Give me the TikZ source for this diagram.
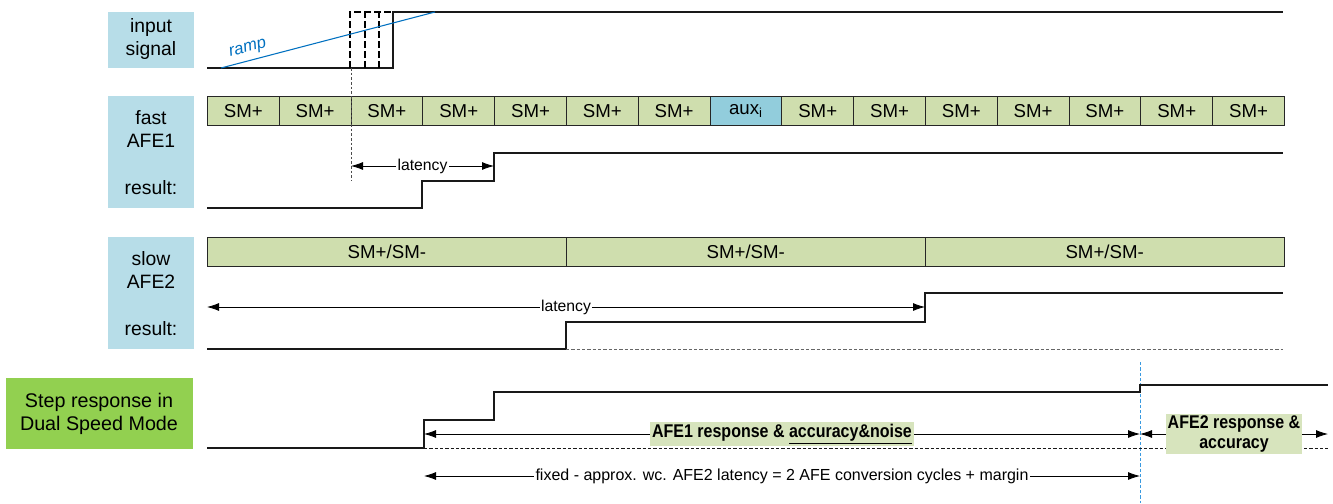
\documentclass[tikz,border=0pt]{standalone}
\usepackage{fontspec}
\setmainfont{Liberation Sans}
\newfontfamily\narrowsans[FakeStretch=0.87]{Liberation Sans}
\usetikzlibrary{arrows.meta}
\definecolor{lblue}{HTML}{B7DDE8}
\definecolor{cellg}{HTML}{CFDEAE}
\definecolor{auxc}{HTML}{92CDDC}
\definecolor{stepg}{HTML}{92D050}
\definecolor{tagg}{HTML}{D7E4BD}
\definecolor{rampc}{HTML}{0070C0}
\definecolor{vline}{HTML}{3A9AE0}
\tikzset{
  lblbox/.style={fill=lblue, anchor=north west, inner sep=0pt},
  lbltext/.style={font=\fontsize{14.5}{17.5}\selectfont, align=center, inner sep=0pt},
  cell/.style={draw=black!85, line width=0.6pt, fill=cellg, anchor=north west, inner sep=0pt, minimum height=21.75pt, font=\fontsize{14}{16}\selectfont},
  sig/.style={line width=0.9pt, black!90},
  dim/.style={line width=0.6pt, {Latex[length=9pt,width=6pt]}-{Latex[length=9pt,width=6pt]}},
  dimlbl/.style={fill=white, inner sep=1pt, font=\fontsize{11.8}{13}\selectfont},
  tag/.style={fill=tagg, inner sep=1.5pt, font=\narrowsans\bfseries\fontsize{13.8}{14.5}\selectfont, align=center}
}
\begin{document}
\begin{tikzpicture}[x=0.75pt,y=-0.75pt]
\useasboundingbox (0,0) rectangle (1333,503);

% label boxes
\node[lblbox, minimum width=64.5pt, minimum height=42pt] (Lin) at (108,12) {};
\node[lbltext] (Lint) at (151,39) {input\\signal};
\node[lblbox, minimum width=64.5pt, minimum height=84pt] (Lf) at (108,96) {};
\node[lbltext] (Lft) at (151,129) {fast\\AFE1};
\node[lbltext] (Lfr) at (151,188) {result:};
\node[lblbox, minimum width=64.5pt, minimum height=84pt] (Ls) at (108,237) {};
\node[lbltext] (Lst) at (151,270) {slow\\AFE2};
\node[lbltext] (Lsr) at (151,329) {result:};
\node[fill=stepg, anchor=north west, inner sep=0pt, minimum width=140.25pt, minimum height=53.25pt] (Lstep) at (6,378) {};
\node[lbltext, font=\fontsize{14.8}{17.5}\selectfont] (Lstept) at (99,414) {Step response in\\Dual Speed Mode};

% input signal
\draw[sig] (207,68) -- (393,68) -- (393,12) -- (1283,12);
\draw[line width=0.8pt, dash pattern=on 5pt off 2.5pt] (350,68) -- (350,12) -- (393,12);
\draw[line width=0.8pt, dash pattern=on 5pt off 2.5pt] (365,68) -- (365,12);
\draw[line width=0.8pt, dash pattern=on 5pt off 2.5pt] (379,68) -- (379,12);
\draw[rampc, line width=0.8pt] (221,68) -- (435,12);
\node[rampc, rotate=15, font=\itshape\fontsize{12.5}{14}\selectfont, inner sep=0pt] (ramp) at (248,49) {ramp};

% fast AFE1 cells
\foreach \i in {0,...,14}{
  \pgfmathsetmacro{\xx}{207+\i*71.8}
  \ifnum\i=7
    \node[cell, fill=auxc, minimum width=53.85pt] (c\i) at (\xx,96) {aux\textsubscript{i}};
  \else
    \node[cell, minimum width=53.85pt] (c\i) at (\xx,96) {SM+};
  \fi
}
\draw[black!70, line width=0.6pt, dash pattern=on 2pt off 1.5pt] (351,68) -- (351,181);

% fast result
\draw[sig] (207,208) -- (422,208) -- (422,181) -- (494,181) -- (494,153) -- (1283,153);
\coordinate (fa) at (351,166);
\coordinate (fb) at (494,166);
\draw[dim] (fa) -- (fb) node[dimlbl, midway] {latency};

% slow AFE2 cells
\foreach \i in {0,1,2}{
  \pgfmathsetmacro{\xx}{207+\i*358.9}
  \node[cell, minimum width=269.2pt] (s\i) at (\xx,237) {SM+/SM-};
}
\draw[sig] (207,349) -- (566,349) -- (566,322) -- (925,322) -- (925,293) -- (1283,293);
\draw[black!60, line width=0.6pt, dash pattern=on 2.5pt off 1.5pt] (566,349) -- (1283,349);
\coordinate (sa) at (207,307);
\coordinate (sb) at (925,307);
\draw[dim] (sa) -- (sb) node[dimlbl, pos=0.5] {latency};

% step response
\draw[vline, line width=0.6pt, dash pattern=on 2.5pt off 1.5pt] (1140,362) -- (1140,503);
\draw[sig] (207,448) -- (424,448) -- (424,420) -- (494,420) -- (494,392) -- (1140,392) -- (1140,385) -- (1328,385);
\draw[black!90, line width=0.6pt, dash pattern=on 2.5pt off 1.5pt] (424,448) -- (1328,448);
\coordinate (a1) at (424,434);
\coordinate (a2) at (1140,434);
\coordinate (a3) at (1328,434);
\draw[dim] (a1) -- (a2) node[tag, pos=0.5] {AFE1 response \& \underline{accuracy\&noise}};
\draw[dim] (a2) -- (a3) node[tag, pos=0.5] {AFE2 response \&\\accuracy};
\coordinate (b1) at (424,476);
\coordinate (b2) at (1140,476);
\draw[dim] (b1) -- (b2) node[dimlbl, pos=0.5, font=\fontsize{12}{14}\selectfont] {fixed - approx. wc. AFE2 latency = 2 AFE conversion cycles + margin};
\end{tikzpicture}
\end{document}
